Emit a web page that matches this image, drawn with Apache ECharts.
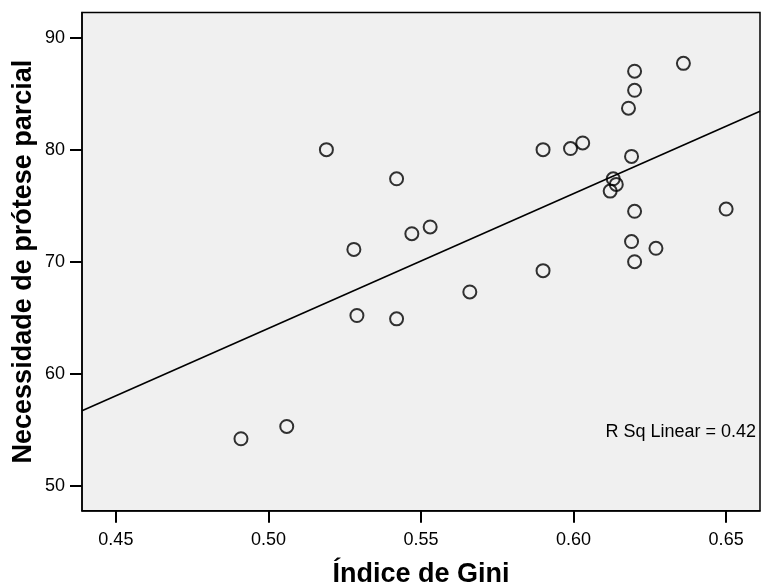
<!DOCTYPE html>
<html><head><meta charset="utf-8">
<script src="https://cdn.jsdelivr.net/npm/echarts@6/dist/echarts.min.js"></script>
<style>html,body{margin:0;padding:0;background:#fff}#c{width:762px;height:588px}</style>
</head><body><div id="c"></div>
<script>
const gini = [0.491,0.506,0.519,0.528,0.529,0.542,0.542,0.547,0.553,0.566,0.590,0.590,0.599,0.603,0.612,0.613,0.614,0.618,0.619,0.619,0.620,0.620,0.620,0.620,0.627,0.636,0.650];
const protese = [54.2,55.3,80.0,71.1,65.2,77.4,64.9,72.5,73.1,67.3,80.0,69.2,80.1,80.6,76.3,77.4,76.9,83.7,79.4,71.8,87.0,85.3,74.5,70.0,71.2,87.7,74.7];
const fitX = [0.4389, 0.6611];
const fitY = [56.7, 83.43];
const xTicks = [0.45,0.50,0.55,0.60,0.65];
const yTicks = [50,60,70,80,90];
const rsqText = 'R Sq Linear = 0.42';

const chart = echarts.init(document.getElementById('c'), null, {renderer:'canvas'});
const font = 'Liberation Sans, Arial, sans-serif';
chart.setOption({
  animation:false,
  grid:{left:82,top:12.5,right:2,bottom:77.3,outerBoundsMode:'none',containLabel:false,show:true,backgroundColor:'#f0f0f0',borderColor:'#000',borderWidth:1.5},
  xAxis:{type:'value',min:0.4389,max:0.6611,
    name:'Índice de Gini',nameLocation:'middle',nameGap:50,nameMoveOverlap:false,
    nameTextStyle:{fontFamily:font,fontSize:27,fontWeight:'bold',color:'#000'},
    axisLine:{show:true,lineStyle:{color:'#000',width:1.5}},
    axisTick:{show:true,length:12,inside:false,lineStyle:{color:'#000',width:2},customValues:xTicks},
    axisLabel:{fontFamily:font,fontSize:18,color:'#000',margin:20,customValues:xTicks,formatter:v=>v.toFixed(2)},
    splitLine:{show:false}},
  yAxis:{type:'value',min:47.78,max:92.24,
    name:'Necessidade de prótese parcial',nameLocation:'middle',nameGap:45,nameRotate:90,nameMoveOverlap:false,
    nameTextStyle:{fontFamily:font,fontSize:27,fontWeight:'bold',color:'#000'},
    axisLine:{show:true,lineStyle:{color:'#000',width:1.5}},
    axisTick:{show:true,length:12,inside:false,lineStyle:{color:'#000',width:2},customValues:yTicks},
    axisLabel:{fontFamily:font,fontSize:18,color:'#000',margin:17,customValues:yTicks,formatter:v=>String(v)},
    splitLine:{show:false}},
  series:[
    {type:'line',data:fitX.map((x,i)=>[x,fitY[i]]),showSymbol:false,symbol:'none',
      lineStyle:{color:'#000',width:1.6},silent:true,z:2},
    {type:'scatter',data:gini.map((x,i)=>[x,protese[i]]),symbol:'circle',symbolSize:13,
      itemStyle:{color:'rgba(0,0,0,0)',borderColor:'#000',borderWidth:2},z:3}
  ],
  graphic:[{type:'text',right:6,top:423,style:{text:rsqText,fontFamily:font,fontSize:18,fill:'#000',textAlign:'right'}}]
});
</script></body></html>
